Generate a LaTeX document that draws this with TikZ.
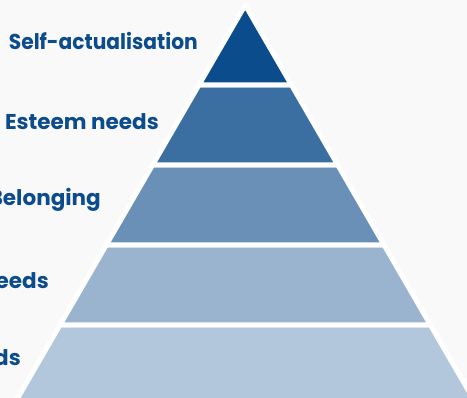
\documentclass[tikz,border=0pt]{standalone}
\usepackage{fontspec}
\setmainfont{Poppins}
\definecolor{bgcol}{HTML}{F9F9F9}
\definecolor{labelcol}{HTML}{0C4C8C}
\definecolor{tierA}{HTML}{0B4C8C}
\definecolor{tierB}{HTML}{3B6EA1}
\definecolor{tierC}{HTML}{6A90B8}
\definecolor{tierD}{HTML}{9AB4CF}
\definecolor{tierE}{HTML}{B2C7DB}
\begin{document}
\begin{tikzpicture}[x=1pt,y=-1pt,
  tier/.style={draw=white,line width=5pt,line join=round},
  lbl/.style={anchor=base east,inner sep=0pt,text=labelcol,font=\fontsize{21.5}{22}\selectfont\bfseries}]
  \fill[bgcol] (0,0) rectangle (467,398);
  \useasboundingbox (0,0) rectangle (467,398);
  \clip (0,0) rectangle (467,398);
  % half width of the pyramid grows 0.579 per unit of height below the apex
  \def\apx{245.2}
  \def\slope{0.579}
  % tiers from the bottom up, so each upper tier's outline sits on top
  \foreach \top/\bot/\col in {325/405/tierE,245/325/tierD,165/245/tierC,85/165/tierB} {
    \pgfmathsetmacro{\wt}{\slope*(\top-5)}
    \pgfmathsetmacro{\wb}{\slope*(\bot-5)}
    \filldraw[tier,fill=\col] (\apx-\wt,\top) -- (\apx+\wt,\top) -- (\apx+\wb,\bot) -- (\apx-\wb,\bot) -- cycle;
  }
  \pgfmathsetmacro{\wb}{\slope*80}
  \filldraw[tier,fill=tierA] (\apx,5) -- (\apx+\wb,85) -- (\apx-\wb,85) -- cycle;
  % labels
  \node[lbl] (self) at (198,50) {\scalebox{0.94}[1]{Self-actualisation}};
  \node[lbl] (esteem) at (159,130) {Esteem needs};
  \node[lbl] (belong) at (101,206) {Belonging};
  \node[lbl] (safety) at (49,289) {Safety needs};
  \node[lbl] (physio) at (21,366) {Physiological needs};
\end{tikzpicture}
\end{document}
